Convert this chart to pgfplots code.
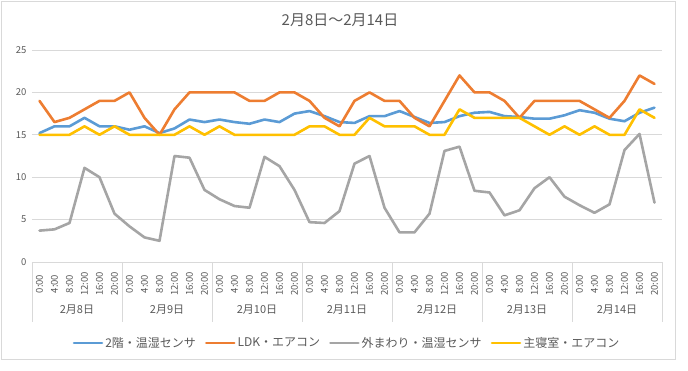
\documentclass[border=0pt]{standalone}
\usepackage{pgfplots}
\pgfplotsset{compat=1.18}
\usepackage{fontspec}
\setmainfont{Noto Sans CJK JP}
\definecolor{cblue}{HTML}{5B9BD5}
\definecolor{corange}{HTML}{ED7D31}
\definecolor{cgray}{HTML}{A5A5A5}
\definecolor{cyellow}{HTML}{FFC000}
\definecolor{cgrid}{HTML}{D9D9D9}
\definecolor{ctext}{HTML}{595959}

\pgfplotstableread{
x b o g y
0 15.2 19 3.7 15
1 16.0 16.5 3.85 15
2 16.0 17 4.6 15
3 17.0 18 11.1 16
4 16.0 19 10.0 15
5 16.0 19 5.7 16
6 15.6 20 4.2 15
7 16.0 17 2.9 15
8 15.2 15 2.5 15
9 15.75 18 12.5 15
10 16.8 20 12.3 16
11 16.5 20 8.5 15
12 16.8 20 7.4 16
13 16.5 20 6.6 15
14 16.3 19 6.4 15
15 16.8 19 12.4 15
16 16.5 20 11.3 15
17 17.5 20 8.5 15
18 17.8 19 4.7 16
19 17.2 17 4.6 16
20 16.5 16 6.0 15
21 16.4 19 11.6 15
22 17.2 20 12.5 17
23 17.2 19 6.4 16
24 17.8 19 3.5 16
25 17.1 17 3.5 16
26 16.4 16 5.7 15
27 16.5 19 13.1 15
28 17.2 22 13.6 18
29 17.6 20 8.4 17
30 17.7 20 8.2 17
31 17.2 19 5.5 17
32 17.1 17 6.1 17
33 16.9 19 8.7 16
34 16.9 19 10.0 15
35 17.3 19 7.7 16
36 17.9 19 6.7 15
37 17.6 18 5.8 16
38 16.9 17 6.8 15
39 16.6 19 13.2 15
40 17.6 22 15.1 18
41 18.2 21 7.0 17
}\datatable

\begin{document}
\begin{tikzpicture}
\useasboundingbox (0pt,0pt) rectangle (688pt,370pt);
\draw[color=cgrid, line width=0.75pt] (1.5pt,11pt) rectangle (675pt,368.5pt);
\node[text=ctext, font=\fontsize{15}{18}\selectfont] at (340pt,350pt) {2月8日～2月14日};
\begin{axis}[
  at={(32pt,108pt)}, anchor=south west,
  scale only axis, width=630pt, height=212pt,
  xmin=-0.5, xmax=41.5, ymin=0, ymax=25,
  ytick={0,5,...,25},
  xtick={0,...,41},
  xticklabels={0:00,4:00,8:00,12:00,16:00,20:00,0:00,4:00,8:00,12:00,16:00,20:00,0:00,4:00,8:00,12:00,16:00,20:00,0:00,4:00,8:00,12:00,16:00,20:00,0:00,4:00,8:00,12:00,16:00,20:00,0:00,4:00,8:00,12:00,16:00,20:00,0:00,4:00,8:00,12:00,16:00,20:00},
  xticklabel style={yshift=-22pt, rotate=90, anchor=center, font=\fontsize{9.5}{11}\selectfont, text=ctext},
  yticklabel style={font=\fontsize{9.5}{11}\selectfont, text=ctext, xshift=-2pt},
  /pgf/number format/assume math mode=true,
  major tick length=0pt,
  axis x line*=bottom, axis y line*=left,
  x axis line style={draw=cgrid, line width=0.75pt, -},
  y axis line style={draw=none},
  ymajorgrids, grid style={draw=cgrid, line width=0.75pt},
  clip=false,
  legend style={draw=none, fill=none, at={(0.5,-0.382)}, anchor=center,
    legend columns=4, font=\fontsize{12}{14}\selectfont, text=ctext,
    /tikz/every even column/.append style={column sep=7pt},
    inner sep=0pt},
  legend cell align=left,
  legend image code/.code={\draw[#1] (0pt,0pt) -- (28pt,0pt);},
  every axis plot/.append style={line width=2.6pt, line join=round, line cap=round, mark=none},
]
\addplot[cblue] table[x=x, y=b] {\datatable};
\addlegendentry{2階・温湿センサ}
\addplot[corange] table[x=x, y=o] {\datatable};
\addlegendentry{LDK・エアコン}
\addplot[cgray] table[x=x, y=g] {\datatable};
\addlegendentry{外まわり・温湿センサ}
\addplot[cyellow] table[x=x, y=y] {\datatable};
\addlegendentry{主寝室・エアコン}
\pgfplotsinvokeforeach{-0.5,5.5,11.5,17.5,23.5,29.5,35.5,41.5}{
  \draw[cgrid, line width=0.75pt] (axis cs:#1,0) -- ++(0pt,-60pt);
}
\node[text=ctext, font=\fontsize{11}{13}\selectfont] at (axis cs:2.5,0) [yshift=-48pt] {2月8日};
\node[text=ctext, font=\fontsize{11}{13}\selectfont] at (axis cs:8.5,0) [yshift=-48pt] {2月9日};
\node[text=ctext, font=\fontsize{11}{13}\selectfont] at (axis cs:14.5,0) [yshift=-48pt] {2月10日};
\node[text=ctext, font=\fontsize{11}{13}\selectfont] at (axis cs:20.5,0) [yshift=-48pt] {2月11日};
\node[text=ctext, font=\fontsize{11}{13}\selectfont] at (axis cs:26.5,0) [yshift=-48pt] {2月12日};
\node[text=ctext, font=\fontsize{11}{13}\selectfont] at (axis cs:32.5,0) [yshift=-48pt] {2月13日};
\node[text=ctext, font=\fontsize{11}{13}\selectfont] at (axis cs:38.5,0) [yshift=-48pt] {2月14日};
\end{axis}
\end{tikzpicture}
\end{document}
